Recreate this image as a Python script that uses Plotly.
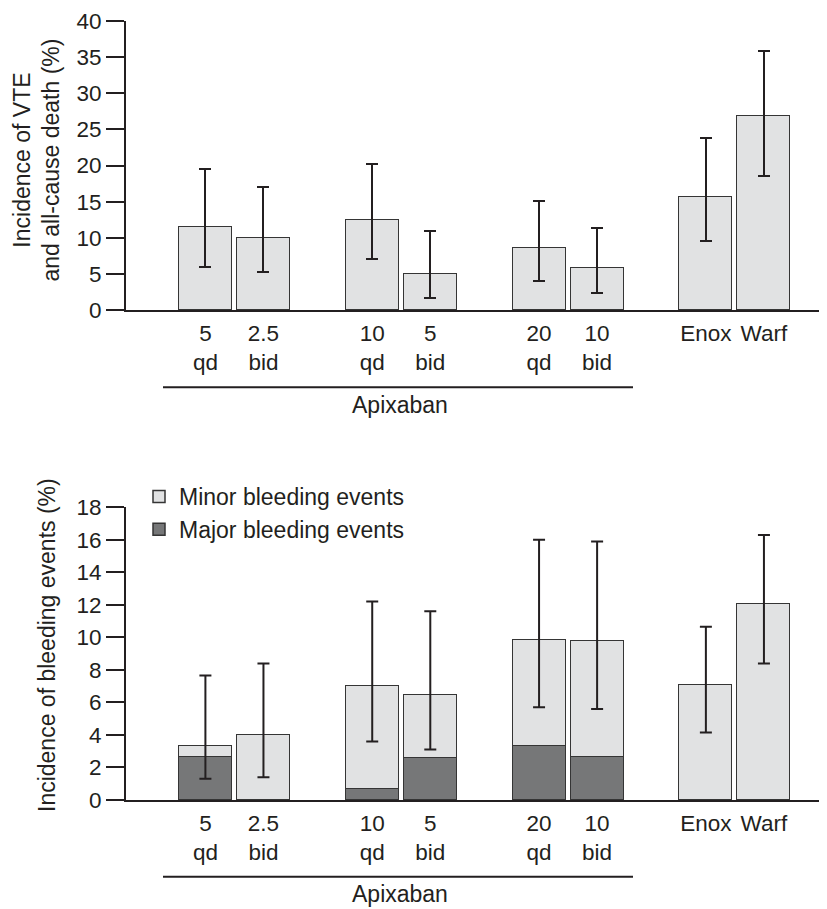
import plotly.graph_objects as go

# ---------------- data ----------------
dose_labels = ["5", "2.5", "10", "5", "20", "10", "Enox", "Warf"]
regimen_labels = ["qd", "bid", "qd", "bid", "qd", "bid", "", ""]

vte_incidence = [11.5, 10.0, 12.5, 5.0, 8.6, 5.8, 15.6, 26.9]
vte_ci_low = [6.0, 5.2, 7.1, 1.6, 4.0, 2.3, 9.6, 18.6]
vte_ci_high = [19.5, 17.0, 20.2, 10.9, 15.1, 11.3, 23.8, 35.9]

bleed_total = [3.3, 4.0, 7.0, 6.45, 9.8, 9.75, 7.05, 12.05]
bleed_major = [2.6, 0.0, 0.65, 2.55, 3.3, 2.65, 0.0, 0.0]
bleed_ci_low = [1.3, 1.4, 3.6, 3.1, 5.7, 5.6, 4.15, 8.4]
bleed_ci_high = [7.65, 8.4, 12.2, 11.6, 16.0, 15.9, 10.65, 16.3]

vte_ticks = [0, 5, 10, 15, 20, 25, 30, 35, 40]
bleed_ticks = [0, 2, 4, 6, 8, 10, 12, 14, 16, 18]

# ---------------- layout helpers ----------------
OFF = 8                       # default page margin of the html body
W, H = 827 - OFF, 909 - OFF   # figure size so the page does not overflow
FONT = "Liberation Sans, Arial, Helvetica, sans-serif"
INK = "#231f20"
LIGHT = "#e1e2e3"
DARK = "#767778"
EDGE = "#353535"
TICK_FS = 22.5
TEXT_FS = 23

pair_off = 0.174
bar_w = 0.318
xpos = [i // 2 + (i % 2 - 0.5) * 2 * pair_off for i in range(len(dose_labels))]
ticktext = [d + ("<br>" + r if r else "") for d, r in zip(dose_labels, regimen_labels)]


def px_x(px):
    return (px - OFF) / W


def px_y(px):
    return 1 - (px - OFF) / H


bleed_minor_part = [t - m for t, m in zip(bleed_total, bleed_major)]

fig = go.Figure()

fig.add_trace(go.Bar(
    x=xpos, y=vte_incidence, width=bar_w, xaxis="x", yaxis="y",
    marker=dict(color=LIGHT, line=dict(color=EDGE, width=1.5)),
    error_y=dict(type="data", symmetric=False,
                 array=[h - v for h, v in zip(vte_ci_high, vte_incidence)],
                 arrayminus=[v - l for v, l in zip(vte_incidence, vte_ci_low)],
                 color=INK, thickness=2, width=6),
    showlegend=False,
))

fig.add_trace(go.Bar(
    x=xpos, y=bleed_major, width=bar_w, xaxis="x2", yaxis="y2",
    name="Major bleeding events",
    marker=dict(color=DARK, line=dict(color=EDGE, width=1.5)),
))
fig.add_trace(go.Bar(
    x=xpos, y=bleed_minor_part, width=bar_w, xaxis="x2", yaxis="y2",
    name="Minor bleeding events",
    marker=dict(color=LIGHT, line=dict(color=EDGE, width=1.5)),
))
fig.add_trace(go.Scatter(
    x=xpos, y=bleed_total, xaxis="x2", yaxis="y2", mode="markers",
    marker=dict(size=1, color="rgba(0,0,0,0)"),
    error_y=dict(type="data", symmetric=False,
                 array=[h - v for h, v in zip(bleed_ci_high, bleed_total)],
                 arrayminus=[v - l for v, l in zip(bleed_total, bleed_ci_low)],
                 color=INK, thickness=2, width=6),
    showlegend=False, hoverinfo="skip",
))

xr = [-0.650, 3.552]
xdom = [px_x(126), 1.0]
xcommon = dict(range=xr, domain=xdom, showgrid=False, zeroline=False,
               showline=True, linecolor=INK, linewidth=2, automargin=False,
               tickmode="array", tickvals=xpos, ticktext=ticktext,
               ticks="outside", ticklen=2, tickcolor="rgba(0,0,0,0)",
               tickfont=dict(family=FONT, size=TICK_FS, color=INK))
ycommon = dict(showgrid=False, zeroline=False, showline=True, linecolor=INK,
               linewidth=2, ticks="outside", ticklen=18, tickwidth=2,
               automargin=False, tickcolor=INK, ticklabeloverflow="allow",
               tickfont=dict(family=FONT, size=TICK_FS, color=INK))

fig.update_layout(
    width=W, height=H,
    margin=dict(l=0, r=0, t=0, b=0, pad=0, autoexpand=False),
    paper_bgcolor="white", plot_bgcolor="white",
    barmode="stack", bargap=0,
    font=dict(family=FONT, size=TEXT_FS, color=INK),
    xaxis=dict(**xcommon, anchor="y"),
    yaxis=dict(**ycommon, range=[0, 40], tickvals=vte_ticks,
               domain=[px_y(310), px_y(21)], anchor="x"),
    xaxis2=dict(**xcommon, anchor="y2"),
    yaxis2=dict(**ycommon, range=[0, 18], tickvals=bleed_ticks,
                domain=[px_y(800), px_y(507.3)], anchor="x2"),
    legend=dict(x=px_x(139), y=px_y(475), xanchor="left", yanchor="top",
                traceorder="reversed", bgcolor="rgba(0,0,0,0)",
                font=dict(family=FONT, size=TEXT_FS, color=INK),
                itemwidth=30, tracegroupgap=0),
    showlegend=True,
)

# group bracket lines and "Apixaban" labels
for line_px, text_px in [(387.3, 405), (876.7, 894)]:
    fig.add_shape(type="line", xref="paper", yref="paper",
                  x0=px_x(163), x1=px_x(633), y0=px_y(line_px), y1=px_y(line_px),
                  line=dict(color=INK, width=2))
    fig.add_annotation(text="Apixaban", xref="paper", yref="paper",
                       x=px_x(400), y=px_y(text_px), showarrow=False,
                       xanchor="center", yanchor="middle",
                       font=dict(family=FONT, size=TEXT_FS, color=INK))

# y-axis titles
fig.add_annotation(text="Incidence of VTE<br>and all-cause death (%)",
                   xref="paper", yref="paper", x=px_x(36.5), y=px_y(160),
                   textangle=-90, showarrow=False, xanchor="center",
                   yanchor="middle", font=dict(family=FONT, size=TEXT_FS, color=INK))
fig.add_annotation(text="Incidence of bleeding events (%)",
                   xref="paper", yref="paper", x=px_x(47), y=px_y(645),
                   textangle=-90, showarrow=False, xanchor="center",
                   yanchor="middle", font=dict(family=FONT, size=TEXT_FS, color=INK))

fig.write_html("out.html")
